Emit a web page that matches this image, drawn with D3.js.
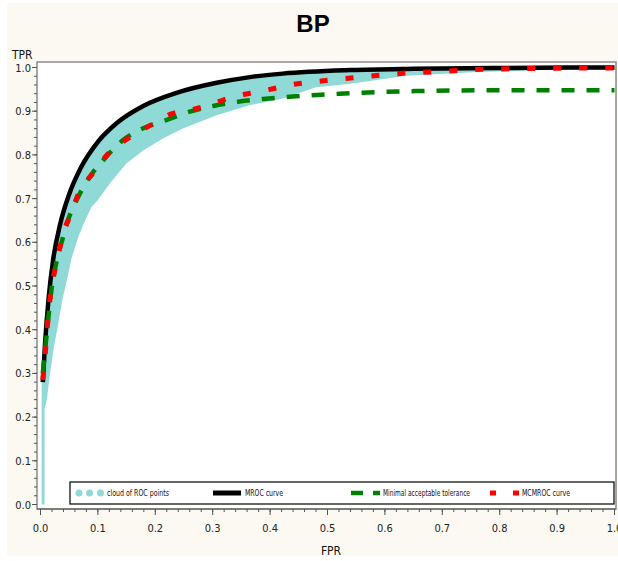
<!DOCTYPE html>
<html>
<head>
<meta charset="utf-8">
<script src="https://cdn.jsdelivr.net/npm/d3@7"></script>
<style>
  body { margin: 0; background: #fff; }
  svg { display: block; }
  text { font-family: "Liberation Sans Narrow", "DejaVu Sans Condensed", "Liberation Sans", sans-serif; }
</style>
</head>
<body>
<script>
// MROC curve
var mrocFpr = [0.004, 0.008, 0.014, 0.022, 0.034, 0.05, 0.07, 0.1, 0.133, 0.179, 0.237, 0.307, 0.365, 0.422, 0.54, 0.65, 0.8, 1.0];
var mrocTpr = [0.28, 0.37, 0.47, 0.56, 0.64, 0.71, 0.77, 0.83, 0.873, 0.912, 0.942, 0.965, 0.978, 0.986, 0.994, 0.997, 0.999, 1.0];

// minimal acceptable tolerance
var tolFpr = [0.004, 0.011, 0.0195, 0.028, 0.037, 0.048, 0.063, 0.086, 0.112, 0.144, 0.179, 0.22, 0.26, 0.301, 0.347, 0.388, 0.434, 0.481, 0.521, 0.655, 0.81, 1.0];
var tolTpr = [0.30, 0.392, 0.495, 0.556, 0.601, 0.651, 0.697, 0.750, 0.792, 0.834, 0.861, 0.88, 0.899, 0.912, 0.922, 0.928, 0.933, 0.937, 0.940, 0.946, 0.948, 0.948];

// MCMROC curve
var mcmFpr = [0.004, 0.008, 0.015, 0.0206, 0.029, 0.038, 0.053, 0.069, 0.089, 0.121, 0.153, 0.192, 0.228, 0.266, 0.304, 0.333, 0.365, 0.4, 0.434, 0.475, 0.518, 0.597, 0.643, 0.69, 0.735, 0.87, 1.0];
var mcmTpr = [0.285, 0.342, 0.453, 0.506, 0.559, 0.613, 0.665, 0.72, 0.754, 0.807, 0.838, 0.868, 0.894, 0.904, 0.919, 0.932, 0.941, 0.95, 0.96, 0.967, 0.973, 0.983, 0.988, 0.99, 0.994, 0.998, 0.999];

// cloud of ROC points (lower / upper edge of the band)
var cloudFpr  = [0.002, 0.007, 0.0071, 0.011, 0.0165, 0.0235, 0.031, 0.038, 0.046, 0.054, 0.066, 0.078, 0.089, 0.1, 0.121, 0.15, 0.179, 0.214, 0.249, 0.307, 0.365, 0.423, 0.48, 0.54, 0.637, 0.753, 0.87, 1.0];
var cloudLow  = [0, 0, 0.22, 0.239, 0.30, 0.361, 0.415, 0.468, 0.514, 0.563, 0.613, 0.651, 0.681, 0.697, 0.735, 0.781, 0.81, 0.838, 0.861, 0.891, 0.914, 0.929, 0.955, 0.963, 0.981, 0.989, 0.994, 0.996];
var cloudHigh = [0.28, 0.33, 0.33, 0.41, 0.50, 0.57, 0.62, 0.655, 0.685, 0.71, 0.75, 0.78, 0.81, 0.83, 0.86, 0.893, 0.912, 0.932, 0.946, 0.965, 0.978, 0.986, 0.991, 0.994, 0.997, 0.998, 0.999, 1.0];

var tickVals = [0, 0.1, 0.2, 0.3, 0.4, 0.5, 0.6, 0.7, 0.8, 0.9, 1.0];
var legendLabels = ["cloud of ROC points", "MROC curve", "Minimal acceptable tolerance", "MCMROC curve"];
var legendWidths = [62, 38, 87, 48];

var width = 618, height = 561;
var svg = d3.select("body").append("svg")
    .attr("width", width)
    .attr("height", height);

svg.append("rect")
    .attr("x", 7).attr("y", 3)
    .attr("width", 611).attr("height", 553)
    .attr("fill", "#fcf9f2");

var frame = {left: 37, top: 62, right: 616, bottom: 509};

var x = d3.scaleLinear().domain([0, 1]).range([40.5, 614.5]);
var y = d3.scaleLinear().domain([0, 1]).range([504.5, 67.5]);

svg.append("rect")
    .attr("x", frame.left).attr("y", frame.top)
    .attr("width", frame.right - frame.left)
    .attr("height", frame.bottom - frame.top)
    .attr("fill", "#fff")
    .attr("stroke", "#8a8a8a")
    .attr("stroke-width", 1.5);

svg.append("clipPath").attr("id", "clip")
  .append("rect")
    .attr("x", frame.left).attr("y", frame.top)
    .attr("width", frame.right - frame.left)
    .attr("height", frame.bottom - frame.top);

var plot = svg.append("g").attr("clip-path", "url(#clip)");

// cloud band
var cloud = cloudFpr.map(function(d, i) { return {x: d, lo: cloudLow[i], hi: cloudHigh[i]}; });
plot.append("path")
    .datum(cloud)
    .attr("fill", "#8fd9d6")
    .attr("d", d3.area()
        .x(function(d) { return x(d.x); })
        .y0(function(d) { return y(d.lo); })
        .y1(function(d) { return y(d.hi); }));

function pts(xs, ys) {
    return xs.map(function(d, i) { return [d, ys[i]]; });
}
var line = d3.line()
    .x(function(d) { return x(d[0]); })
    .y(function(d) { return y(d[1]); })
    .curve(d3.curveMonotoneX);

plot.append("path")
    .datum(pts(mrocFpr, mrocTpr))
    .attr("fill", "none")
    .attr("stroke", "#000")
    .attr("stroke-width", 4.5)
    .attr("d", line);

plot.append("path")
    .datum(pts(tolFpr, tolTpr))
    .attr("fill", "none")
    .attr("stroke", "#008000")
    .attr("stroke-width", 4.5)
    .attr("stroke-dasharray", "13,12")
    .attr("d", line);

plot.append("path")
    .datum(pts(mcmFpr, mcmTpr))
    .attr("fill", "none")
    .attr("stroke", "#ff0000")
    .attr("stroke-width", 5)
    .attr("stroke-dasharray", "8,18")
    .attr("d", line);

// axes
var minor = d3.range(0, 1.0001, 0.02);

var xAxis = svg.append("g")
    .attr("transform", "translate(0," + frame.bottom + ")");
xAxis.append("line")
    .attr("x1", frame.left).attr("x2", frame.right)
    .attr("stroke", "#555");
xAxis.selectAll(".minor").data(minor).enter().append("line")
    .attr("x1", function(d) { return x(d); })
    .attr("x2", function(d) { return x(d); })
    .attr("y2", 3)
    .attr("stroke", "#555");
xAxis.selectAll(".major").data(tickVals).enter().append("line")
    .attr("x1", function(d) { return x(d); })
    .attr("x2", function(d) { return x(d); })
    .attr("y2", 6)
    .attr("stroke", "#555");
xAxis.selectAll("text").data(tickVals).enter().append("text")
    .attr("x", function(d) { return x(d); })
    .attr("y", 23)
    .attr("text-anchor", "middle")
    .attr("font-size", 11)
    .attr("fill", "#222")
    .text(d3.format(".1f"));

var yAxis = svg.append("g")
    .attr("transform", "translate(" + frame.left + ",0)");
yAxis.selectAll(".minor").data(minor).enter().append("line")
    .attr("y1", function(d) { return y(d); })
    .attr("y2", function(d) { return y(d); })
    .attr("x2", -3)
    .attr("stroke", "#555");
yAxis.selectAll(".major").data(tickVals).enter().append("line")
    .attr("y1", function(d) { return y(d); })
    .attr("y2", function(d) { return y(d); })
    .attr("x2", -5)
    .attr("stroke", "#555");
yAxis.selectAll("text").data(tickVals).enter().append("text")
    .attr("x", -6)
    .attr("y", function(d) { return y(d) + 4; })
    .attr("text-anchor", "end")
    .attr("font-size", 11)
    .attr("fill", "#222")
    .text(d3.format(".1f"));

// titles
svg.append("text")
    .attr("x", 313).attr("y", 32)
    .attr("text-anchor", "middle")
    .attr("font-size", 24)
    .attr("font-weight", "bold")
    .style("font-family", "'Liberation Sans', Arial, sans-serif")
    .text("BP");
svg.append("text")
    .attr("x", 12).attr("y", 59)
    .attr("font-size", 12)
    .attr("fill", "#111")
    .text("TPR");
svg.append("text")
    .attr("x", 331).attr("y", 555)
    .attr("text-anchor", "middle")
    .attr("font-size", 12)
    .attr("fill", "#111")
    .text("FPR");

// legend
var leg = svg.append("g");
leg.append("rect")
    .attr("x", 70).attr("y", 482)
    .attr("width", 544).attr("height", 22)
    .attr("fill", "#fff")
    .attr("stroke", "#000")
    .attr("stroke-width", 1.2);
var ly = 493;
leg.selectAll("circle").data([79, 89.5, 100.5]).enter().append("circle")
    .attr("cx", function(d) { return d; })
    .attr("cy", ly)
    .attr("r", 3.5)
    .attr("fill", "#8fd9d6");
leg.append("line")
    .attr("x1", 213).attr("x2", 241)
    .attr("y1", ly).attr("y2", ly)
    .attr("stroke", "#000").attr("stroke-width", 5);
leg.append("line")
    .attr("x1", 351).attr("x2", 380)
    .attr("y1", ly).attr("y2", ly)
    .attr("stroke", "#008000").attr("stroke-width", 4.5)
    .attr("stroke-dasharray", "12,10");
leg.append("line")
    .attr("x1", 490).attr("x2", 519)
    .attr("y1", ly).attr("y2", ly)
    .attr("stroke", "#ff0000").attr("stroke-width", 5)
    .attr("stroke-dasharray", "6,17");
var legX = [107, 245, 383, 522];
leg.selectAll("text").data(legendLabels).enter().append("text")
    .attr("x", function(d, i) { return legX[i]; })
    .attr("y", ly + 3)
    .attr("font-size", 8)
    .attr("textLength", function(d, i) { return legendWidths[i]; })
    .attr("lengthAdjust", "spacingAndGlyphs")
    .attr("fill", "#111")
    .text(function(d) { return d; });
</script>
</body>
</html>
